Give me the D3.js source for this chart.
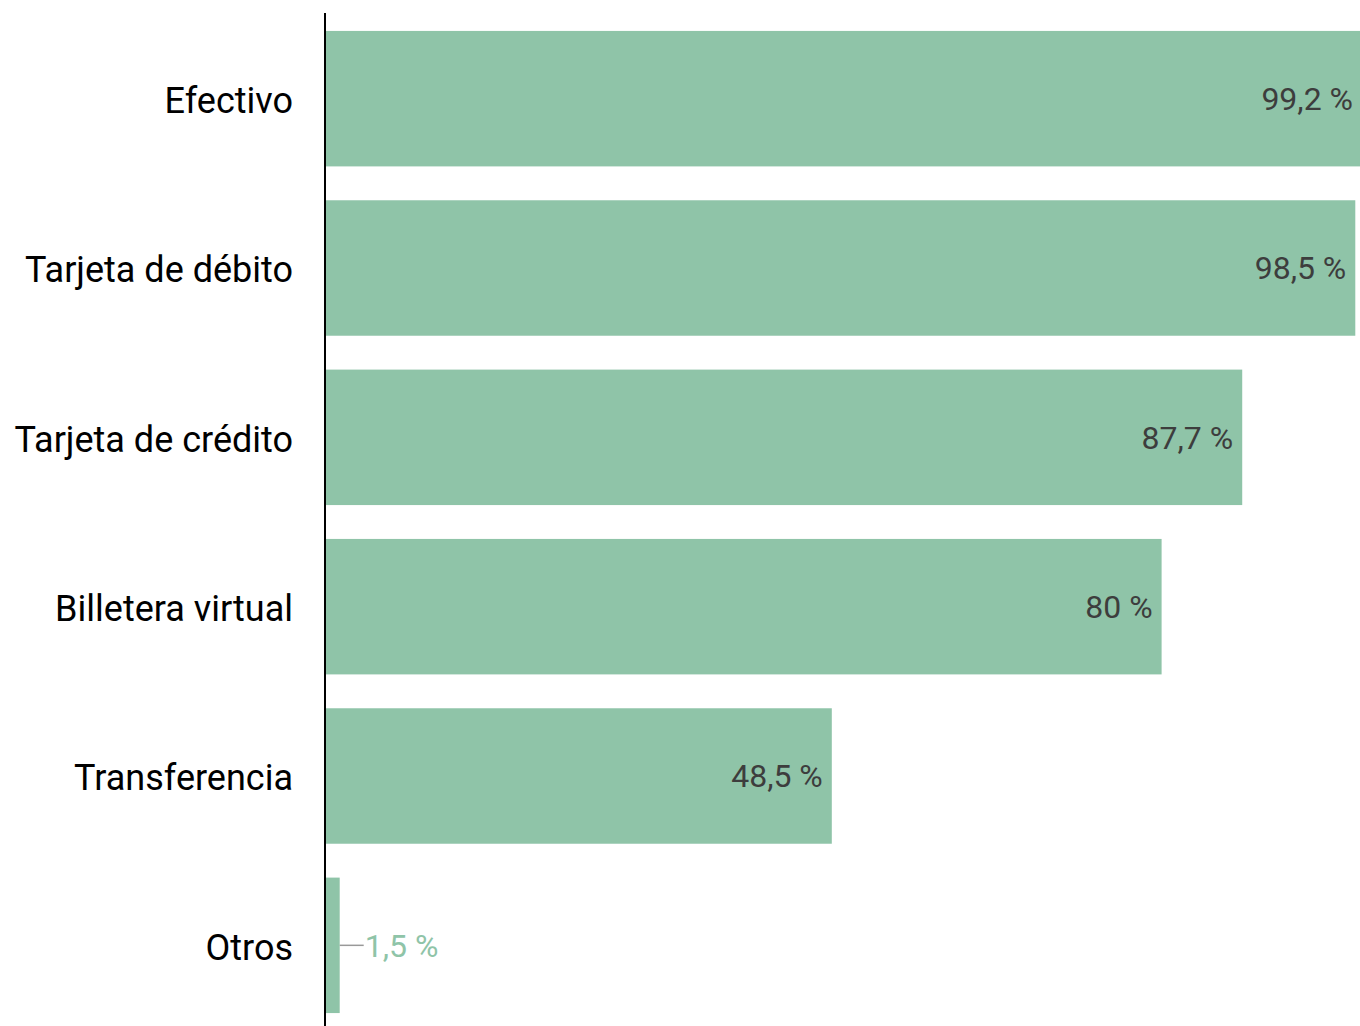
<!DOCTYPE html>
<html>
<head>
<meta charset="utf-8">
<script src="https://cdn.jsdelivr.net/npm/d3@7"></script>
<style>
  html, body { margin: 0; padding: 0; background: #fff; }
  svg { display: block; font-family: Roboto, "Noto Sans", sans-serif; }
</style>
</head>
<body>
<svg id="chart" width="1360" height="1026"></svg>
<script>
// Medios de pago utilizados (%)
const categories = ["Efectivo", "Tarjeta de débito", "Tarjeta de crédito", "Billetera virtual", "Transferencia", "Otros"];
const values = [99.2, 98.5, 87.7, 80, 48.5, 1.5];
const valueLabels = ["99,2 %", "98,5 %", "87,7 %", "80 %", "48,5 %", "1,5 %"];

const data = categories.map((c, i) => ({ cat: c, v: values[i], label: valueLabels[i] }));

const svg = d3.select("#chart");
const x0 = 325;
const x = d3.scaleLinear().domain([0, 100]).range([324, 1371]);
const y = d3.scaleBand().domain(categories).range([14, 1030]).paddingInner(0.2).paddingOuter(0.1);

const barColor = "#8fc4a8";

svg.selectAll("rect.bar").data(data).join("rect")
  .attr("class", "bar")
  .attr("x", x(0))
  .attr("y", d => y(d.cat))
  .attr("width", d => x(d.v) - x(0))
  .attr("height", y.bandwidth())
  .attr("fill", barColor);

// Category axis on the left
const axis = svg.append("g").attr("transform", `translate(${x0},0)`)
  .call(d3.axisLeft(y).tickSize(0).tickPadding(32));
axis.select(".domain").attr("stroke", "#000").attr("stroke-width", 2).attr("d", "M0,13V1026");
axis.selectAll("text").attr("font-size", 36).attr("fill", "#000")
  .attr("dy", "0.4em")
  .attr("font-family", "Roboto, sans-serif");

// Value labels: inside the bar when there is room, otherwise outside with a leader line
const inside = d => x(d.v) - x(0) > 120;
const labels = svg.selectAll("g.vl").data(data).join("g").attr("class", "vl");

labels.filter(d => inside(d)).append("text")
  .attr("x", d => Math.min(x(d.v), 1362) - 9)
  .attr("y", d => y(d.cat) + y.bandwidth() / 2)
  .attr("dy", "0.35em")
  .attr("text-anchor", "end")
  .attr("font-size", 32)
  .attr("fill", "#3d3d3d")
  .text(d => d.label);

const outside = labels.filter(d => !inside(d));
outside.append("line")
  .attr("x1", d => x(d.v))
  .attr("x2", d => x(d.v) + 24)
  .attr("y1", d => y(d.cat) + y.bandwidth() / 2)
  .attr("y2", d => y(d.cat) + y.bandwidth() / 2)
  .attr("stroke", "#999")
  .attr("stroke-width", 1.5);
outside.append("text")
  .attr("x", d => x(d.v) + 25)
  .attr("y", d => y(d.cat) + y.bandwidth() / 2)
  .attr("dy", "0.35em")
  .attr("font-size", 32)
  .attr("fill", barColor)
  .text(d => d.label);
</script>
</body>
</html>
